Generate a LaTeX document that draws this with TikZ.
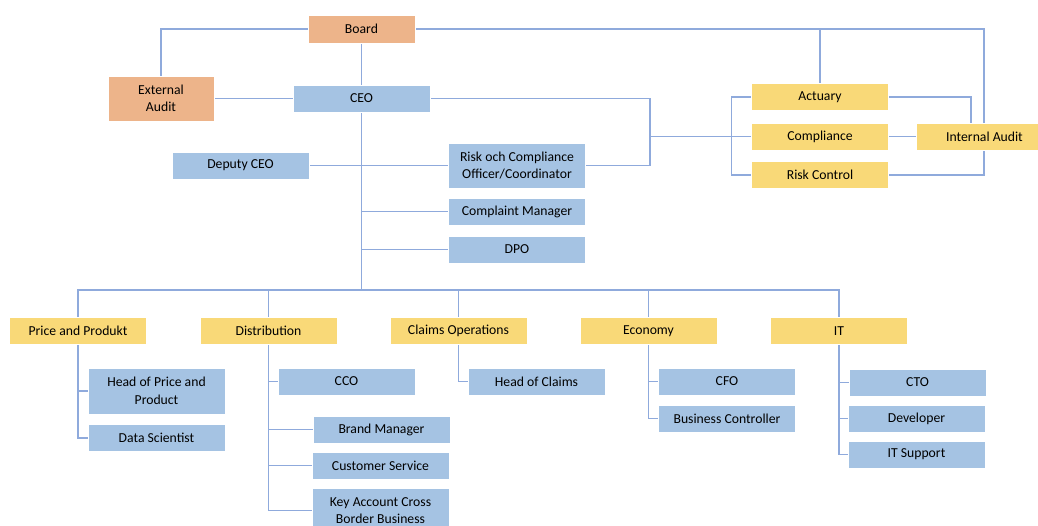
\documentclass[tikz,border=0pt]{standalone}
\usepackage{fontspec}
\setmainfont{Carlito}
\usetikzlibrary{backgrounds}
\tikzset{
  unit/.style={shape=rectangle,draw=white,line width=0.4pt,align=center,inner sep=1pt,
    minimum width=2.74cm,minimum height=0.54cm,font=\fontsize{7.8}{10}\selectfont},
  bluebox/.style={unit,fill=boxblue},
  orangebox/.style={unit,fill=boxorange},
  yellowbox/.style={unit,fill=boxyellow},
  link/.style={draw=linkblue,line width=0.6pt}
}
\definecolor{boxblue}{HTML}{A5C3E3}
\definecolor{boxorange}{HTML}{EDB48A}
\definecolor{boxyellow}{HTML}{F9D978}
\definecolor{linkblue}{HTML}{8FAADC}
\begin{document}
\begin{tikzpicture}[x=0.02cm,y=-0.02cm]
        \useasboundingbox (0,0) rectangle (1038,525);
        % top level
        \node[orangebox,minimum width=2.14cm,minimum height=0.56cm] (board) at (361.5,29) {Board};
        \node[orangebox,minimum width=2.12cm,minimum height=0.9cm] (extaudit) at (161,98.5) {External\\Audit};
        \node[bluebox] (ceo) at (361.5,98.5) {CEO};
        \node[bluebox] (deputy) at (240.5,165.5) {Deputy CEO};
        \node[bluebox,minimum height=0.9cm] (rco) at (517,165.5) {Risk och Compliance\\Officer/Coordinator};
        \node[bluebox] (complaint) at (517,211.5) {Complaint Manager};
        \node[bluebox] (dpo) at (517,249.5) {DPO};
        % control functions
        \node[yellowbox] (actuary) at (820,97) {Actuary};
        \node[yellowbox] (compliance) at (820,136.5) {Compliance};
        \node[yellowbox] (riskctrl) at (820,175) {Risk Control};
        \node[yellowbox] (intaudit) at (984.5,136.5) {Internal Audit};
        \coordinate (rgt) at (984,175);
        \coordinate (cj) at (650,136.5);
        \coordinate (bus) at (361.5,290);
        % departments
        \node[yellowbox] (price) at (78,331) {Price and Produkt};
        \node[yellowbox] (dist) at (268.5,331) {Distribution};
        \node[yellowbox] (claims) at (458.5,331) {Claims Operations};
        \node[yellowbox] (economy) at (648.5,331) {Economy};
        \node[yellowbox] (it) at (839,331) {IT};
        \node[bluebox,minimum height=0.92cm] (hpp) at (156.5,391) {Head of Price and\\Product};
        \node[bluebox] (datasci) at (156.5,438) {Data Scientist};
        \node[bluebox] (cco) at (346.5,381.5) {CCO};
        \node[bluebox] (brand) at (381.5,429.5) {Brand Manager};
        \node[bluebox] (custserv) at (380.5,465.5) {Customer Service};
        \node[bluebox,minimum height=0.9cm] (keyacc) at (380.5,510.5) {Key Account Cross\\Border Business};
        \node[bluebox] (hoc) at (536.5,381.5) {Head of Claims};
        \node[bluebox] (cfo) at (727,381.5) {CFO};
        \node[bluebox] (bctrl) at (727,418.5) {Business Controller};
        \node[bluebox] (cto) at (917.5,382.5) {CTO};
        \node[bluebox] (dev) at (916.5,418.5) {Developer};
        \node[bluebox] (itsup) at (916.5,454.5) {IT Support};

        \begin{scope}[on background layer]
        \path[link]
        (board.west) -| (extaudit.north)
        (board.south) -- (ceo.north)
        (extaudit.east) -- (ceo.west)
        (board.east) -| (rgt) -- (riskctrl.east)
        (actuary.north) -- (actuary.north |- board.east)
        (actuary.east) -| ([xshift=-0.27cm]intaudit.north)
        (compliance.east) -- (intaudit.west)
        (actuary.west) -- ++(-20,0) |- (riskctrl.west)
        (ceo.east) -| (cj) |- (rco.east)
        (cj) -- (compliance.west)
        (ceo.south) -- (bus)
        (deputy.east) -- (rco.west)
        (complaint.west) -- (complaint.west -| ceo.south)
        (dpo.west) -- (dpo.west -| ceo.south)
        (price.north) |- (bus) -| (it.north)
        ;
        \foreach \d in {dist,claims,economy}
          \draw[link] (\d.north) -- (\d.north |- bus);
        \foreach \p/\c in {price/hpp,price/datasci,dist/cco,dist/brand,dist/custserv,dist/keyacc,
                           claims/hoc,economy/cfo,economy/bctrl,it/cto,it/dev,it/itsup}
          \draw[link] (\p.south) |- (\c.west);
        \end{scope}
\end{tikzpicture}
\end{document}
